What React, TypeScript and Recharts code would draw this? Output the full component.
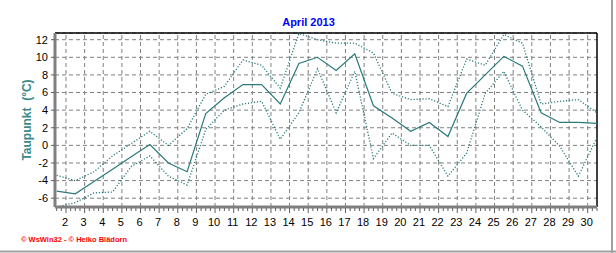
import React from "react";
import { LineChart, Line, XAxis, YAxis, CartesianGrid, ReferenceLine } from "recharts";

const days = [1,2,3,4,5,6,7,8,9,10,11,12,13,14,15,16,17,18,19,20,21,22,23,24,25,26,27,28,29,30];
const meanDew = [-5.2,-5.5,-4.1,-2.7,-1.3,0.1,-2.0,-3.0,3.6,5.4,6.9,6.9,4.7,9.3,10.0,8.5,10.4,4.5,3.1,1.6,2.6,1.0,5.9,8.0,10.1,9.0,3.7,2.6,2.6,2.5];
const maxDew = [-3.4,-4.0,-3.0,-1.2,0.2,1.6,0.0,1.9,5.8,6.7,9.7,9.1,6.5,12.7,12.0,11.6,11.6,10.5,5.9,5.2,5.3,4.4,9.8,9.1,12.6,11.6,4.7,5.0,5.2,3.7];
const minDew = [-7.0,-6.5,-5.4,-5.3,-2.4,-1.2,-3.5,-4.5,1.8,4.0,4.7,5.0,0.7,3.7,8.7,3.7,8.4,-1.5,1.4,0.0,0.0,-3.5,-0.9,5.9,8.4,4.0,2.1,-0.1,-3.5,0.9];
const xTickDays = [2,3,4,5,6,7,8,9,10,11,12,13,14,15,16,17,18,19,20,21,22,23,24,25,26,27,28,29,30];
const yTicks = [-6,-4,-2,0,2,4,6,8,10,12];
const xDomain = [1.41, 30.5];
const yDomain = [-7, 12.76];
const title = "April 2013";
const yLabel = "Taupunkt  (°C)";
const footer = "© WsWin32 - © Heiko Blädorn";

const data = days.map((d, i) => ({ t: d + 0.5, mean: meanDew[i], max: maxDew[i], min: minDew[i] }));
const minorTicks: number[] = [];
for (let q = 6; q <= 122; q++) minorTicks.push(q / 4);

const FONT = "'Liberation Sans', Arial, sans-serif";
const TEAL = "#2a7a7a";

const XTick = (props: any) => {
  const { x, y, payload } = props;
  const v = payload.value;
  const major = Math.abs(v - Math.round(v)) < 1e-6;
  return (
    <g>
      <line x1={x} x2={x} y1={y + 1} y2={y + (major ? 6 : 4)} stroke="#606060" strokeWidth={1} />
      {major && (
        <text x={x - 1} y={y + 19} textAnchor="middle" fontSize={11} fontFamily={FONT} fill="#000">
          {v}
        </text>
      )}
    </g>
  );
};

export default function App() {
  return (
    <div style={{ position: "absolute", left: 0, top: 0, width: 616, height: 253, background: "#fff", overflow: "hidden" }}>
      <LineChart width={616} height={253} data={data} margin={{ top: 33, right: 19, bottom: 0, left: 0 }}>
        <CartesianGrid vertical={false} stroke="#808080" strokeDasharray="4 3" />
        {xTickDays.map((d) => (
          <ReferenceLine key={d} x={d} stroke="#808080" strokeDasharray="4 3" />
        ))}
        <ReferenceLine y={yDomain[1]} stroke="#000" strokeWidth={1.5} />
        <ReferenceLine x={xDomain[1]} stroke="#000" strokeWidth={1.5} />
        <XAxis
          dataKey="t"
          type="number"
          domain={xDomain}
          allowDataOverflow
          ticks={minorTicks}
          interval={0}
          height={46}
          tickSize={0}
          tickMargin={0}
          tickLine={false}
          axisLine={{ stroke: "#808080", strokeWidth: 3 }}
          tick={<XTick />}
        />
        <YAxis
          type="number"
          domain={yDomain}
          allowDataOverflow
          ticks={yTicks}
          interval={0}
          width={55}
          tickSize={4}
          tickMargin={3}
          tickLine={{ stroke: "#606060" }}
          axisLine={{ stroke: "#808080", strokeWidth: 3 }}
          tick={{ fontSize: 11, fontFamily: FONT, fill: "#000" }}
        />
        <Line dataKey="max" stroke={TEAL} strokeWidth={1.3} strokeDasharray="1.2 1.8" dot={false} isAnimationActive={false} />
        <Line dataKey="min" stroke={TEAL} strokeWidth={1.3} strokeDasharray="1.2 1.8" dot={false} isAnimationActive={false} />
        <Line dataKey="mean" stroke={TEAL} strokeWidth={1.2} dot={false} isAnimationActive={false} />
      </LineChart>
      <svg width={616} height={253} style={{ position: "absolute", left: 0, top: 0, pointerEvents: "none" }}>
        <text x={308.5} y={25.5} textAnchor="middle" fontSize={11} fontWeight="bold" fontFamily={FONT} fill="#0000ff">
          {title}
        </text>
        <text
          x={0}
          y={0}
          transform="translate(30.5,120) rotate(-90)"
          textAnchor="middle"
          fontSize={12}
          fontWeight="bold"
          fontFamily={FONT}
          fill="#3a8a8a"
          style={{ whiteSpace: "pre" }}
        >
          {yLabel}
        </text>
        <text x={21} y={241.5} fontSize={7.5} fontWeight="bold" fontFamily={FONT} fill="#ff0000">
          {footer}
        </text>
        <line x1={612} y1={0} x2={612} y2={253} stroke="#a0a0a0" strokeWidth={2} />
        <line x1={0} y1={251.5} x2={616} y2={251.5} stroke="#a0a0a0" strokeWidth={2} />
      </svg>
    </div>
  );
}
